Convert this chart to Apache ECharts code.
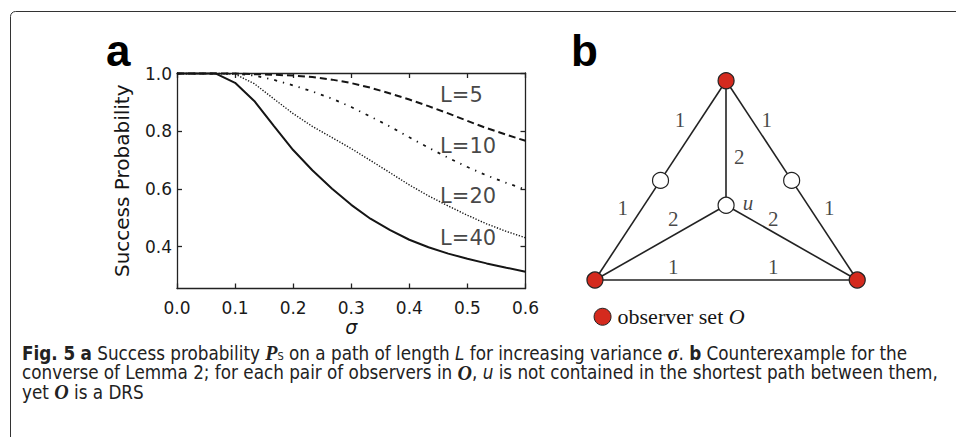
<!DOCTYPE html>
<html>
<head>
<meta charset="utf-8">
<script src="https://cdn.jsdelivr.net/npm/echarts@6/dist/echarts.min.js"></script>
<style>
html,body{margin:0;padding:0;background:#fff;}
#chart{width:956px;height:437px;}
</style>
</head>
<body>
<div id="chart"></div>
<script>
// ---------- Panel a data ----------
const sigma = [0, 0.033, 0.067, 0.1, 0.133, 0.167, 0.2, 0.233, 0.267, 0.3, 0.333, 0.367, 0.4, 0.433, 0.467, 0.5, 0.533, 0.567, 0.6];
const pL5  = [1, 1, 1, 1, 0.998, 0.996, 0.993, 0.988, 0.979, 0.967, 0.951, 0.931, 0.91, 0.887, 0.862, 0.836, 0.811, 0.788, 0.767];
const pL10 = [1, 1, 1, 1, 0.993, 0.978, 0.959, 0.938, 0.913, 0.884, 0.851, 0.816, 0.779, 0.743, 0.708, 0.676, 0.647, 0.621, 0.598];
const pL20 = [1, 1, 1, 0.998, 0.965, 0.912, 0.861, 0.817, 0.778, 0.74, 0.699, 0.656, 0.614, 0.576, 0.541, 0.509, 0.479, 0.453, 0.431];
const pL40 = [1, 1, 1, 0.968, 0.905, 0.818, 0.735, 0.665, 0.601, 0.545, 0.497, 0.457, 0.424, 0.398, 0.376, 0.358, 0.342, 0.327, 0.313];
const curveNames = ['L=5', 'L=10', 'L=20', 'L=40'];
const yTickValues = [0.4, 0.6, 0.8, 1.0];
const xTickStep = 0.1;

// ---------- Panel b data ----------
const nodeX = [5, 2.5, 7.5, 5, 0, 10];
const nodeY = [7.6, 3.8, 3.8, 2.85, 0, 0];
const nodeIsObserver = [true, false, false, false, true, true];
const edges = [[0, 1], [1, 4], [0, 2], [2, 5], [0, 3], [3, 4], [3, 5], [4, 5]];
const edgeLabelText = ['1', '1', '1', '1', '2', '2', '2', '1', '1'];
const edgeLabelX = [3.24, 1.06, 6.55, 8.93, 5.5, 2.99, 6.8, 2.99, 6.8];
const edgeLabelY = [6.1, 2.73, 6.1, 2.73, 4.7, 2.31, 2.31, 0.51, 0.51];

const INK = '#151515';
const RED = '#D42A1E';
const tickFont = 'DejaVu Sans';
const serif = 'Liberation Serif';
const capFont = '"DejaVu Sans Condensed", "DejaVu Sans", sans-serif';
const CAP = 18.7;

const chart = echarts.init(document.getElementById('chart'), null, {renderer: 'svg'});

function zip(xs, ys) { return xs.map((x, i) => [x, ys[i]]); }

const curveStyles = [
  {type: [7, 4], width: 2},
  {type: [3, 6, 1.3, 6], width: 1.8},
  {type: [1.3, 1.6], width: 1.4},
  {type: 'solid', width: 2}
];
const curveData = [pL5, pL10, pL20, pL40];
const curveLabelPos = [[0.453, 0.925], [0.453, 0.749], [0.453, 0.575], [0.453, 0.43]];

const series = [];
curveData.forEach((d, i) => {
  series.push({
    type: 'line', name: curveNames[i], xAxisIndex: 0, yAxisIndex: 0,
    data: zip(sigma, d), showSymbol: false, smooth: false, silent: true,
    lineStyle: {color: INK, width: curveStyles[i].width, type: curveStyles[i].type, opacity: 1}
  });
  series.push({
    type: 'scatter', xAxisIndex: 0, yAxisIndex: 0, symbolSize: 0, silent: true,
    data: [curveLabelPos[i]],
    label: {show: true, position: 'right', distance: 0, formatter: curveNames[i],
      fontFamily: tickFont, fontSize: 21, color: INK}
  });
});

// panel b graph
series.push({
  type: 'graph', coordinateSystem: 'cartesian2d', xAxisIndex: 2, yAxisIndex: 2,
  silent: true, symbol: 'circle', symbolSize: 16,
  data: nodeX.map((x, i) => ({
    name: 'n' + i, value: [x, nodeY[i]],
    itemStyle: {color: nodeIsObserver[i] ? RED : '#fff', borderColor: '#222', borderWidth: 1.2, opacity: 1}
  })),
  links: edges.map(e => ({source: e[0], target: e[1]})),
  lineStyle: {color: '#222', width: 1.6, opacity: 1, curveness: 0},
  label: {show: false},
  z: 3
});
series.push({
  type: 'scatter', xAxisIndex: 2, yAxisIndex: 2, symbolSize: 0, silent: true,
  data: edgeLabelText.map((t, i) => ({value: [edgeLabelX[i], edgeLabelY[i]], name: t})),
  label: {show: true, position: 'inside', formatter: p => p.name,
    fontFamily: serif, fontSize: 21, color: INK}
});
series.push({
  type: 'scatter', xAxisIndex: 2, yAxisIndex: 2, symbolSize: 0, silent: true,
  data: [[5.84, 2.92]],
  label: {show: true, position: 'inside', formatter: 'u',
    fontFamily: serif, fontStyle: 'italic', fontSize: 21, color: INK}
});
series.push({
  type: 'scatter', xAxisIndex: 2, yAxisIndex: 2, silent: true,
  symbolSize: 17, itemStyle: {color: RED, borderColor: '#222', borderWidth: 1, opacity: 1},
  data: [[0.29, -1.4]],
  label: {show: true, position: 'right', distance: 6,
    formatter: '{a|observer set }{b|O}',
    rich: {a: {fontFamily: serif, fontSize: 22, color: INK},
           b: {fontFamily: serif, fontStyle: 'italic', fontSize: 22, color: INK}}}
});

const axisLineStyle = {color: '#222', width: 1.3};

function capStyle(text) {
  return {
    text: text, fontFamily: capFont, fontSize: CAP, lineHeight: 18, fill: '#222',
    rich: {
      bd: {fontFamily: capFont, fontWeight: 'bold', fontSize: CAP, lineHeight: 18, fill: '#222'},
      it: {fontFamily: capFont, fontStyle: 'italic', fontSize: CAP, lineHeight: 18, fill: '#222'},
      cal: {fontFamily: serif, fontStyle: 'italic', fontWeight: 'bold', fontSize: 20, lineHeight: 18, fill: '#222'},
      sub: {fontFamily: capFont, fontSize: 11, lineHeight: 18, fill: '#222', verticalAlign: 'bottom'}
    }
  };
}

const option = {
  animation: false,
  backgroundColor: '#fff',
  grid: [
    {left: 177, right: 430.5, top: 73, bottom: 148.5},
    {left: 542.5, right: 20.1, top: 44, bottom: 104.5}
  ],
  xAxis: [
    {type: 'value', gridIndex: 0, min: 0, max: 0.6, interval: xTickStep,
      name: 'σ', nameLocation: 'middle', nameGap: 27,
      nameTextStyle: {fontFamily: tickFont, fontStyle: 'italic', fontSize: 19, color: INK},
      axisLine: {show: true, onZero: false, lineStyle: axisLineStyle},
      axisTick: {show: true, inside: true, length: 5, lineStyle: axisLineStyle},
      axisLabel: {show: true, margin: 11, fontFamily: tickFont, fontSize: 17, color: '#1a1a1a',
        formatter: v => v.toFixed(1)},
      splitLine: {show: false}},
    {type: 'value', gridIndex: 0, position: 'top', min: 0, max: 0.6, interval: xTickStep,
      axisLine: {show: true, onZero: false, lineStyle: axisLineStyle},
      axisTick: {show: true, inside: true, length: 5, lineStyle: axisLineStyle},
      axisLabel: {show: false}, splitLine: {show: false}},
    {type: 'value', gridIndex: 1, min: -2, max: 13, show: false}
  ],
  yAxis: [
    {type: 'value', gridIndex: 0, min: 0.255, max: 1.002,
      name: 'Success Probability', nameLocation: 'middle', nameGap: 45,
      nameTextStyle: {fontFamily: tickFont, fontSize: 20, color: INK},
      axisLine: {show: true, onZero: false, lineStyle: axisLineStyle},
      axisTick: {show: true, inside: true, length: 5, lineStyle: axisLineStyle, customValues: yTickValues},
      axisLabel: {show: true, margin: 5, fontFamily: tickFont, fontSize: 17, color: '#1a1a1a',
        customValues: yTickValues, formatter: v => v.toFixed(1)},
      splitLine: {show: false}},
    {type: 'value', gridIndex: 0, position: 'right', min: 0.255, max: 1.002,
      axisLine: {show: true, onZero: false, lineStyle: axisLineStyle},
      axisTick: {show: true, inside: true, length: 5, lineStyle: axisLineStyle, customValues: yTickValues},
      axisLabel: {show: false, customValues: yTickValues}, splitLine: {show: false}},
    {type: 'value', gridIndex: 1, min: -2, max: 9, show: false}
  ],
  graphic: [
    {type: 'rect', shape: {x: 10.5, y: 11.5, width: 990, height: 470, r: 5}, silent: true,
      style: {fill: 'none', stroke: '#333', lineWidth: 1}},
    {type: 'text', left: 106, top: 28, silent: true,
      style: {text: 'a', fontFamily: 'Liberation Sans', fontWeight: 'bold', fontSize: 44, fill: '#000'}},
    {type: 'text', left: 571, top: 28, silent: true,
      style: {text: 'b', fontFamily: 'Liberation Sans', fontWeight: 'bold', fontSize: 44, fill: '#000'}},
    {type: 'text', left: 22, top: 343, silent: true,
      style: capStyle('{bd|Fig. 5} {bd|a} Success probability {cal|P}{sub|S} on a path of length {it|L} for increasing variance {cal|σ}. {bd|b} Counterexample for the')},
    {type: 'text', left: 22, top: 362.5, silent: true,
      style: capStyle('converse of Lemma 2; for each pair of observers in {cal|O}, {it|u} is not contained in the shortest path between them,')},
    {type: 'text', left: 22, top: 382, silent: true,
      style: capStyle('yet {cal|O} is a DRS')}
  ],
  series: series
};
chart.setOption(option);
</script>
</body>
</html>
